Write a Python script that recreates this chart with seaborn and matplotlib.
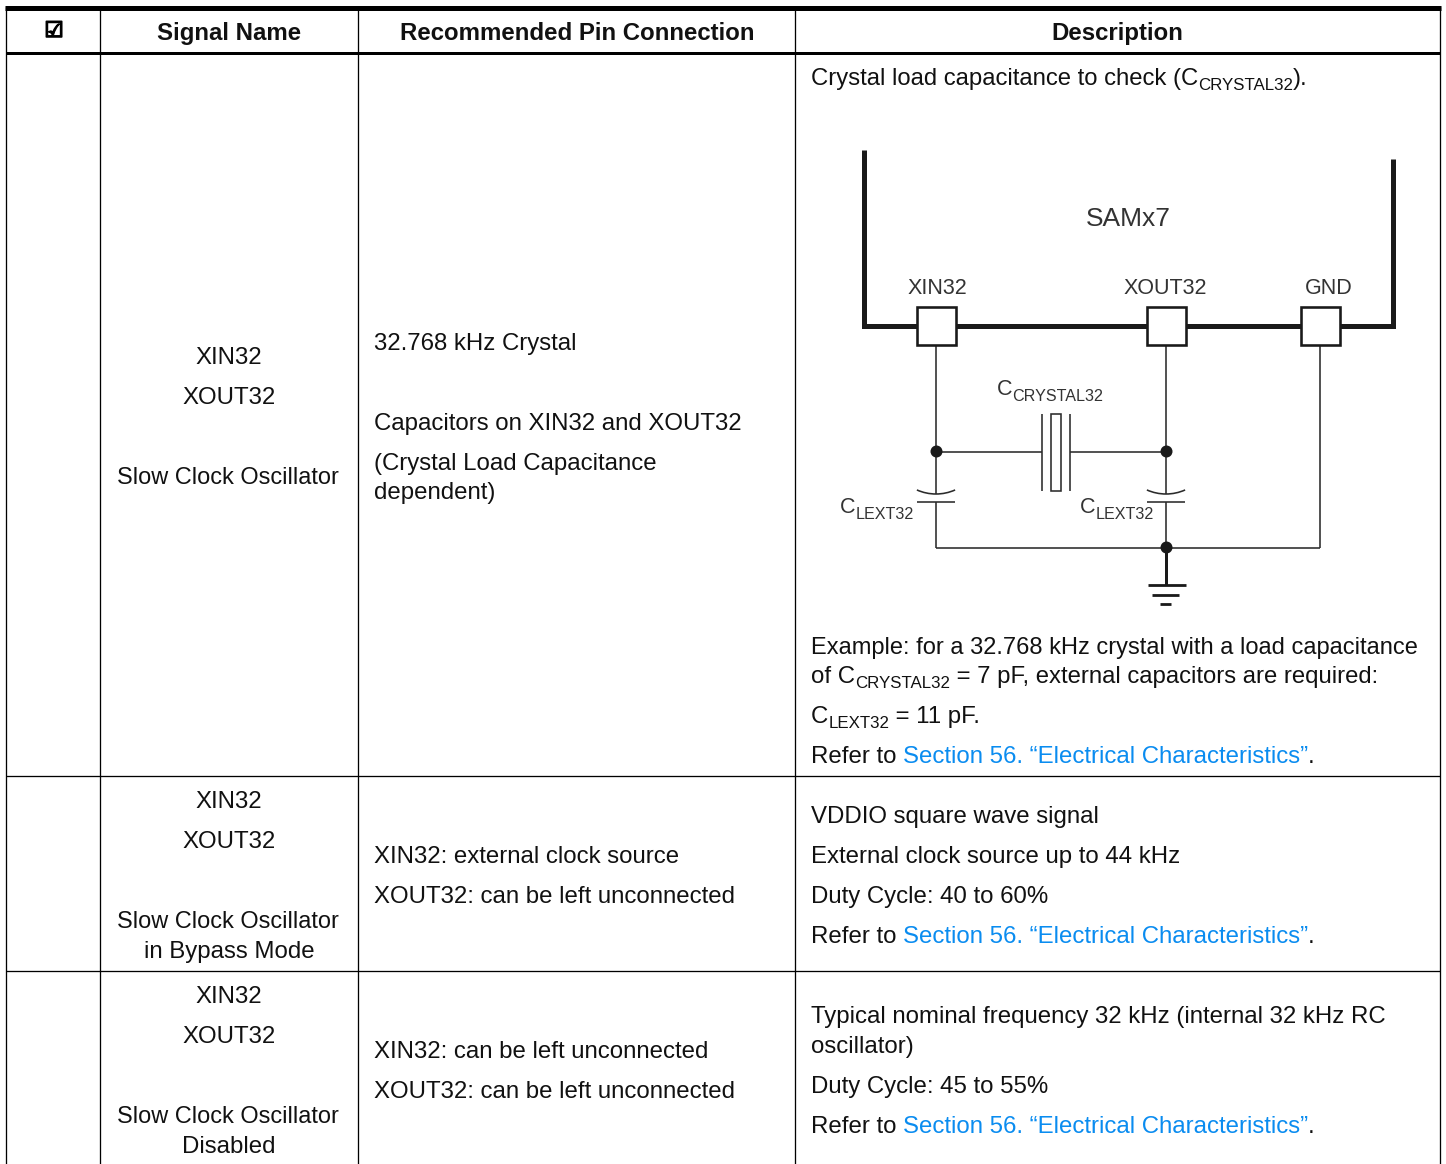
import matplotlib
matplotlib.use("Agg")
import matplotlib.pyplot as plt
import matplotlib.patheffects as pe
from matplotlib.patches import Rectangle, Arc
import seaborn as sns

sns.set_theme(style="white")
plt.rcParams["font.family"] = ["Liberation Sans", "DejaVu Sans"]

BODY = 17.3
SUB = 12.2
INK = "#111111"
LINK = "#0A8CF0"
WIRE = "#2b2b2b"

headers = ["☑", "Signal Name", "Recommended Pin Connection", "Description"]
header_x = [54, 229, 577, 1117]
col_edges = [6, 100, 358, 795, 1440]
row_edges = [776, 971]

signal_cells = [
    (364, "XIN32"), (404, "XOUT32"), (484, "Slow Clock Oscillator"),
    (808, "XIN32"), (848, "XOUT32"), (928, "Slow Clock Oscillator"), (958, "in Bypass Mode"),
    (1003, "XIN32"), (1043, "XOUT32"), (1123, "Slow Clock Oscillator"), (1153, "Disabled"),
]
pin_cells = [
    (350, "32.768 kHz Crystal"), (430, "Capacitors on XIN32 and XOUT32"),
    (470, "(Crystal Load Capacitance"), (499, "dependent)"),
    (863, "XIN32: external clock source"), (903, "XOUT32: can be left unconnected"),
    (1058, "XIN32: can be left unconnected"), (1098, "XOUT32: can be left unconnected"),
]
desc_plain = [
    (823, "VDDIO square wave signal"), (863, "External clock source up to 44 kHz"),
    (903, "Duty Cycle: 40 to 60%"),
    (1023, "Typical nominal frequency 32 kHz (internal 32 kHz RC"), (1053, "oscillator)"),
    (1093, "Duty Cycle: 45 to 55%"),
    (654, "Example: for a 32.768 kHz crystal with a load capacitance"),
]
link_rows = [763, 943, 1133]
link_text = "Section 56. “Electrical Characteristics”"

fig = plt.figure(figsize=(14.46, 11.64), dpi=100, facecolor="white")
ax = fig.add_axes([0, 0, 1, 1])
ax.set_xlim(0, 1446)
ax.set_ylim(1164, 0)
ax.axis("off")
renderer = fig.canvas.get_renderer()
PX = 72 / 100


def runs(x, y, parts, **kw):
    """Chain text runs: (string, size, baseline drop, colour)."""
    for s, size, dy, color in parts:
        t = ax.text(x, y + dy, s, fontsize=size, color=color, va="baseline", ha="left", **kw)
        x = ax.transData.inverted().transform(t.get_window_extent(renderer))[1][0]
    return x


# table rules
ax.plot([5, 1441], [7.5, 7.5], color="black", lw=5 * PX, solid_capstyle="butt")
ax.plot([6, 1440], [52.5, 52.5], color="black", lw=3 * PX, solid_capstyle="butt")
for x in col_edges:
    ax.plot([x, x], [7, 1164], color="black", lw=1.3 * PX, solid_capstyle="butt")
for y in row_edges:
    ax.plot([6, 1440], [y, y], color="black", lw=1.3 * PX, solid_capstyle="butt")

# header
ax.text(header_x[0], 31, headers[0], family="DejaVu Sans", fontsize=15.5, fontweight="bold",
        ha="center", va="center", color="black",
        path_effects=[pe.withStroke(linewidth=1.1, foreground="black")])
for hx, h in zip(header_x[1:], headers[1:]):
    ax.text(hx, 40, h, fontsize=17.25, fontweight="bold", ha="center", va="baseline", color=INK)

# cells
for y, s in signal_cells:
    size = 16.95 if s.startswith("Slow") else BODY
    ax.text(228 if s.startswith("Slow") else 229, y, s, fontsize=size, ha="center", va="baseline", color=INK)
for y, s in pin_cells:
    ax.text(374, y, s, fontsize=BODY, ha="left", va="baseline", color=INK)
for y, s in desc_plain:
    size = 17.03 if s.startswith("Example") else BODY
    ax.text(811, y, s, fontsize=size, ha="left", va="baseline", color=INK)
for y in link_rows:
    runs(811, y, [("Refer to ", BODY, 0, INK), (link_text, BODY, 0, LINK), (".", BODY, 0, INK)])

runs(811, 85, [("Crystal load capacitance to check (C", 17.2, 0, INK),
               ("CRYSTAL32", SUB, 5, INK), (").", BODY, 0, INK)])
runs(811, 683, [("of C", BODY, 0, INK), ("CRYSTAL32", SUB, 5, INK),
                (" = 7 pF, external capacitors are required:", 17.2, 0, INK)])
runs(811, 723, [("C", BODY, 0, INK), ("LEXT32", SUB, 5, INK), (" = 11 pF.", BODY, 0, INK)])

# schematic
thick = 5 * PX
ax.plot([864, 864, 1393, 1393], [150, 326, 326, 159], color="#1a1a1a", lw=thick,
        solid_joinstyle="miter", solid_capstyle="butt")
for bx in (917, 1147, 1301):
    ax.add_patch(Rectangle((bx, 307), 39, 38, fc="white", ec="#1a1a1a", lw=2.6 * PX, zorder=3))

thin = 1.6 * PX
for wx, wy in [([936, 936], [345, 494]), ([936, 936], [502, 548]),
               ([1166, 1166], [345, 494]), ([1166, 1166], [502, 548]),
               ([1320, 1320], [345, 548]), ([936, 1320], [548, 548]),
               ([936, 1042], [452, 452]), ([1070, 1166], [452, 452])]:
    ax.plot(wx, wy, color=WIRE, lw=thin, solid_capstyle="butt")
for vx in (1042, 1070):
    ax.plot([vx, vx], [414, 491], color=WIRE, lw=thin, solid_capstyle="butt")
ax.add_patch(Rectangle((1051, 414), 10, 77, fc="white", ec=WIRE, lw=thin))
for cx in (936, 1166):
    ax.plot([cx - 19, cx + 19], [502, 502], color=WIRE, lw=thin, solid_capstyle="butt")
    ax.add_patch(Arc((cx, 447), 94, 94, theta1=66, theta2=114, color=WIRE, lw=thin))
for nx, ny in [(936, 451), (1166, 451), (1166, 547)]:
    ax.plot([nx], [ny], "o", color="#1a1a1a", ms=12 * PX, mew=0, zorder=4)
ax.plot([1166, 1166], [547, 585], color="#1a1a1a", lw=3 * PX, solid_capstyle="butt")
for x0, x1, y in [(1148, 1186, 585), (1152, 1179, 594.5), (1160, 1171, 604)]:
    ax.plot([x0, x1], [y, y], color="#1a1a1a", lw=2.8 * PX, solid_capstyle="butt")

GREY = "#333333"
ax.text(1128, 226, "SAMx7", fontsize=19.0, color=GREY, ha="center", va="baseline")
ax.text(937, 294, "XIN32", fontsize=15.5, color=GREY, ha="center", va="baseline")
ax.text(1165, 294, "XOUT32", fontsize=15.5, color=GREY, ha="center", va="baseline")
ax.text(1329, 294, "GND", fontsize=15.5, color=GREY, ha="center", va="baseline")
runs(997, 395, [("C", 15.5, 0, GREY), ("CRYSTAL32", 11.6, 6, GREY)])
runs(840, 513, [("C", 15.5, 0, GREY), ("LEXT32", 11.6, 6, GREY)])
runs(1080, 513, [("C", 15.5, 0, GREY), ("LEXT32", 11.6, 6, GREY)])

sns.despine(ax=ax, left=True, bottom=True)
fig.savefig("out.png", dpi=100, facecolor="white")
